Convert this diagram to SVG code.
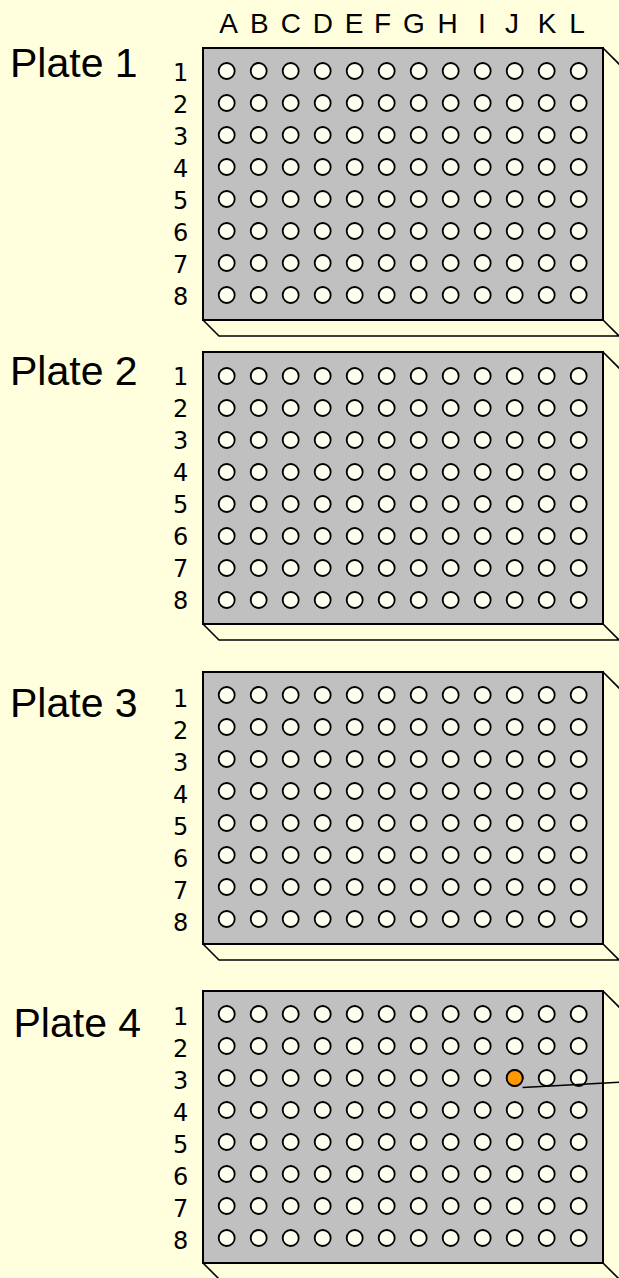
<svg xmlns="http://www.w3.org/2000/svg" xmlns:xlink="http://www.w3.org/1999/xlink" width="619" height="1278" viewBox="0 0 619 1278">
<style>
.bg{fill:#FFFFDD}
.plate{fill:#C0C0C0;stroke:#000;stroke-width:2}
.base{fill:none;stroke:#000;stroke-width:1.6;stroke-linejoin:miter}
.well{fill:#FFFFF2;stroke:#000;stroke-width:1.8}
.hit{fill:#FF9900;stroke:#000;stroke-width:1.8}
.title{font-family:"Liberation Sans",Arial,sans-serif;font-size:41px;fill:#000}
.col{font-family:"Liberation Sans",Arial,sans-serif;font-size:28px;fill:#000;text-anchor:middle}
.num{font-family:"DejaVu Sans",sans-serif;font-size:24px;fill:#000}
.conn{fill:none;stroke:#000;stroke-width:1.5}
</style>
<defs>
<g id="row">
<circle class="well" cx="0" cy="0" r="8"/><circle class="well" cx="32" cy="0" r="8"/><circle class="well" cx="64" cy="0" r="8"/><circle class="well" cx="96" cy="0" r="8"/><circle class="well" cx="128" cy="0" r="8"/><circle class="well" cx="160" cy="0" r="8"/><circle class="well" cx="192" cy="0" r="8"/><circle class="well" cx="224" cy="0" r="8"/><circle class="well" cx="256" cy="0" r="8"/><circle class="well" cx="288" cy="0" r="8"/><circle class="well" cx="320" cy="0" r="8"/><circle class="well" cx="352" cy="0" r="8"/>
</g>
<g id="grid">
<use xlink:href="#row" y="0"/><use xlink:href="#row" y="32"/><use xlink:href="#row" y="64"/><use xlink:href="#row" y="96"/><use xlink:href="#row" y="128"/><use xlink:href="#row" y="160"/><use xlink:href="#row" y="192"/><use xlink:href="#row" y="224"/>
</g>
<g id="body">
<path class="base" d="M603,0 L625,22 M625,288 L219,288 L203,272 M603,272 L619,288"/>
<rect class="plate" x="203" y="0" width="400" height="272"/>
</g>
<g id="nums">
<text class="num" x="173" y="0">1</text><text class="num" x="173" y="32">2</text><text class="num" x="173" y="64">3</text><text class="num" x="173" y="96">4</text><text class="num" x="173" y="128">5</text><text class="num" x="173" y="160">6</text><text class="num" x="173" y="192">7</text><text class="num" x="173" y="224">8</text>
</g>
</defs>
<rect class="bg" x="0" y="0" width="619" height="1278"/>
<g id="columns">
<text class="col" x="228.5" y="33">A</text><text class="col" x="259.3" y="33">B</text><text class="col" x="290.8" y="33">C</text><text class="col" x="322.8" y="33">D</text><text class="col" x="354" y="33">E</text><text class="col" x="382.5" y="33">F</text><text class="col" x="414" y="33">G</text><text class="col" x="447.5" y="33">H</text><text class="col" x="481.8" y="33">I</text><text class="col" x="512" y="33">J</text><text class="col" x="547" y="33">K</text><text class="col" x="577" y="33">L</text>
</g>
<g id="plate1">
<use xlink:href="#body" y="48"/>
<use xlink:href="#grid" x="226.7" y="71"/>
<use xlink:href="#nums" y="81"/>
<text class="title" x="10" y="77">Plate 1</text>
</g>
<g id="plate2">
<use xlink:href="#body" y="352"/>
<use xlink:href="#grid" x="226.7" y="376"/>
<use xlink:href="#nums" y="385"/>
<text class="title" x="10" y="385">Plate 2</text>
</g>
<g id="plate3">
<use xlink:href="#body" y="672"/>
<use xlink:href="#grid" x="226.7" y="695"/>
<use xlink:href="#nums" y="707"/>
<text class="title" x="10" y="717">Plate 3</text>
</g>
<g id="plate4">
<use xlink:href="#body" y="991"/>
<use xlink:href="#grid" x="226.7" y="1014"/>
<circle class="hit" cx="514.7" cy="1078" r="8"/>
<use xlink:href="#nums" y="1025"/>
<text class="title" x="13.5" y="1037">Plate 4</text>
</g>
<g id="connectors">
<line class="conn" x1="522.5" y1="1087.5" x2="619" y2="1082.3"/>
</g>
</svg>
